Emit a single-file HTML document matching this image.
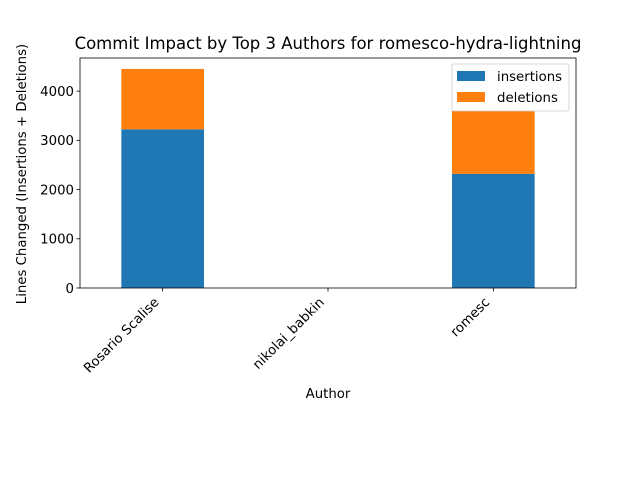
<!DOCTYPE html>
<html><head><meta charset="utf-8"><style>
body{margin:0;background:#fff;}
svg text{font-family:"DejaVu Sans","Liberation Sans",sans-serif;fill:#000;}
</style></head><body>
<svg id="chart" width="640" height="480" xmlns="http://www.w3.org/2000/svg">
<rect width="640" height="480" fill="#fff"/>
<g id="bars"></g>
<g id="axes"></g>
</svg>
<script>
const categories = ["Rosario Scalise","nikolai_babkin","romesc"];
const insertions = [3225, 0, 2320];
const deletions = [1226, 0, 1280];
const yTicks = [0,1000,2000,3000,4000];
const seriesNames = ["insertions","deletions"];

const L=80,R=576,T=58,B=288;
const totals = categories.map((c,i)=>insertions[i]+deletions[i]);
const yMax = Math.max(...totals)*1.05;
const y = v => B - v/yMax*(B-T);
const step=(R-L)/categories.length;
const xc = i => L + step*(i+0.5);
const bw = step*0.5;
const NS="http://www.w3.org/2000/svg";
function mk(tag, attrs, parent){const e=document.createElementNS(NS,tag);for(const k in attrs)e.setAttribute(k,attrs[k]);parent.appendChild(e);return e;}
const bars=document.getElementById('bars'), axes=document.getElementById('axes');
categories.forEach((c,i)=>{
  const b1=mk('rect',{x:xc(i)-bw/2,y:y(insertions[i]),width:bw,height:B-y(insertions[i]),fill:'#1f77b4'},bars);
  
  
  const b2=mk('rect',{x:xc(i)-bw/2,y:y(totals[i]),width:bw,height:y(insertions[i])-y(totals[i]),fill:'#ff7f0e'},bars);
  
  
  mk('line',{x1:xc(i),x2:xc(i),y1:B,y2:B+3.5,stroke:'#000','stroke-width':0.8},axes);
  const t=mk('text',{x:0,y:0,'font-size':13.3,'text-anchor':'end',transform:`translate(${xc(i)-3},${B+15}) rotate(-45)`},axes);
  t.textContent=c;
  
  
});
yTicks.forEach(v=>{
  mk('line',{x1:L-3.5,x2:L,y1:y(v),y2:y(v),stroke:'#000','stroke-width':0.8},axes);
  const t=mk('text',{x:L-6,y:y(v)+4.8,'font-size':13.3,'text-anchor':'end'},axes);
  t.textContent=v;
  
  
});
const frame=mk('rect',{x:L,y:T,width:R-L,height:B-T,fill:'none',stroke:'#000','stroke-width':0.8},axes);


const title=mk('text',{x:(L+R)/2,y:T-9,'font-size':16.5,'text-anchor':'middle'},axes);
title.textContent="Commit Impact by Top 3 Authors for romesco-hydra-lightning";


const xt=mk('text',{x:(L+R)/2,y:398,'font-size':13.3,'text-anchor':'middle'},axes);
xt.textContent="Author";


const yt=mk('text',{x:0,y:0,'font-size':13.3,'text-anchor':'middle',transform:`translate(26,${(T+B)/2+1}) rotate(-90)`},axes);
yt.textContent="Lines Changed (Insertions + Deletions)";


const lg=mk('g',{},axes);


mk('rect',{x:452,y:64,width:117,height:47,rx:2,fill:'#fff','fill-opacity':0.8,stroke:'#ccc','stroke-width':0.8},lg);
const cols=['#1f77b4','#ff7f0e'];
seriesNames.forEach((n,i)=>{
  const sw=mk('rect',{x:457,y:71+i*21,width:28,height:10,fill:cols[i]},lg);
  
  
  const t=mk('text',{x:497,y:81+i*21,'font-size':13.3},lg);
  t.textContent=n;
  
  
});
</script>
</body></html>
